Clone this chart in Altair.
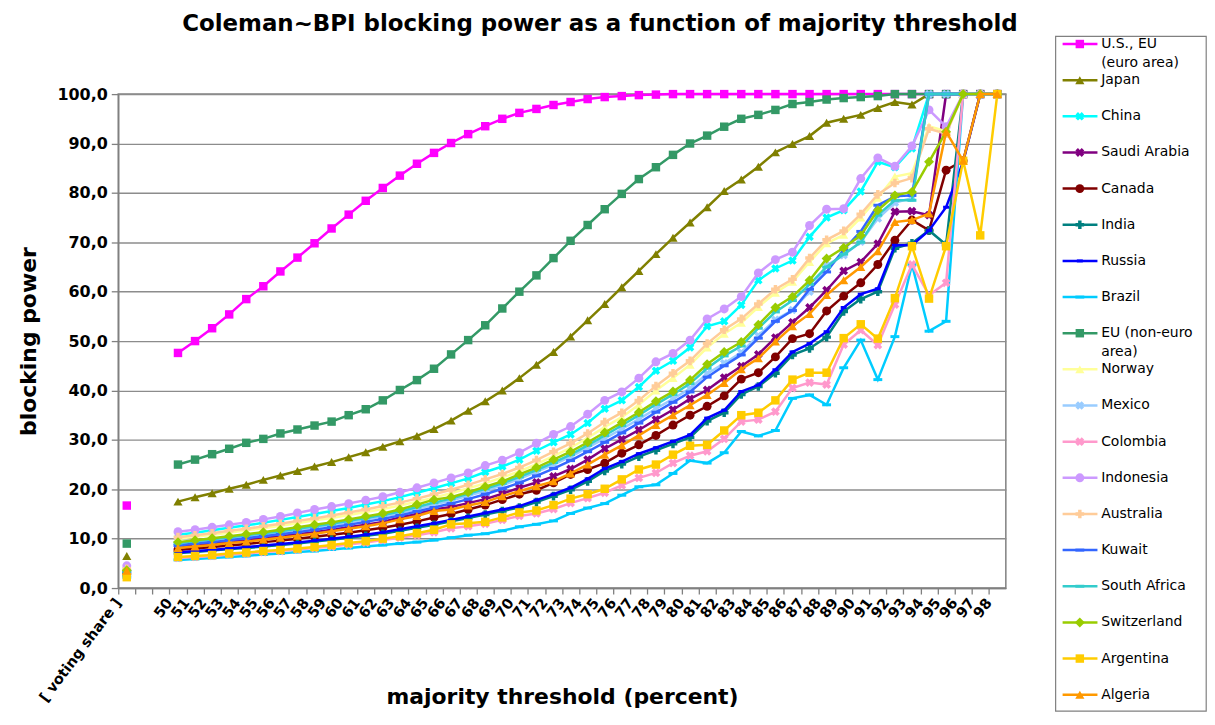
import altair as alt
import pandas as pd

TITLE = "Coleman~BPI blocking power as a function of majority threshold"
THRESHOLDS = list(range(50, 99))
VOTE_POS = 47
TICK_VALUES = [47, 48, 49] + THRESHOLDS

SERIES = ["U.S., EU (euro area)", "Japan", "China", "Saudi Arabia", "Canada", "India",
          "Russia", "Brazil", "EU (non-euro area)", "Norway", "Mexico", "Colombia",
          "Indonesia", "Australia", "Kuwait", "South Africa", "Switzerland", "Argentina", "Algeria"]
LABEL_LINE1 = ["U.S., EU", "Japan", "China", "Saudi Arabia", "Canada", "India", "Russia", "Brazil",
               "EU (non-euro", "Norway", "Mexico", "Colombia", "Indonesia", "Australia", "Kuwait",
               "South Africa", "Switzerland", "Argentina", "Algeria"]
LABEL_LINE2 = ["(euro area)", "", "", "", "", "", "", "", "area)", "", "", "", "", "", "", "", "", "", ""]
COLORS = ["#FF00FF", "#808000", "#00FFFF", "#800080", "#800000", "#008080", "#0000FF", "#00CCFF",
          "#339966", "#FFFF99", "#99CCFF", "#FF99CC", "#CC99FF", "#FFCC99", "#3366FF", "#33CCCC",
          "#99CC00", "#FFCC00", "#FF9900"]
MARKERS = ["square", "triangle", "x", "star", "circle", "plus", "smalldash", "dash",
           "square", "triangle", "x", "star", "circle", "plus", "dash", "dash",
           "diamond", "square", "triangle"]

VOTING_SHARE = [16.7, 6.5, 3.7, 3.2, 2.9, 2.7, 2.7, 2.2, 9.0, 3.4, 3.5, 2.4, 4.5, 3.9, 3.3, 3.4, 3.6, 2.2, 3.5]

US_EU = [47.6, 50.0, 52.6, 55.4, 58.5, 61.1, 64.1, 66.9, 69.8, 72.8,
         75.6, 78.4, 81.0, 83.5, 85.9, 88.1, 90.1, 91.9, 93.5, 95.0,
         96.2, 97.0, 97.8, 98.4, 99.0, 99.4, 99.6, 99.8, 99.9, 100,
         100, 100, 100, 100, 100, 100, 100, 100, 100, 100,
         100, 100, 100, 100, 100, 100, 100, 100, 100]
JAPAN = [17.5, 18.4, 19.2, 20.1, 20.9, 21.9, 22.8, 23.7, 24.6, 25.5,
         26.5, 27.5, 28.6, 29.7, 30.8, 32.2, 33.9, 35.9, 37.8, 40.0,
         42.5, 45.2, 47.8, 50.9, 54.2, 57.5, 60.9, 64.2, 67.6, 70.9,
         74.0, 77.1, 80.4, 82.7, 85.3, 88.2, 89.9, 91.5, 94.2, 95.0,
         95.8, 97.2, 98.4, 97.9, 100, 100, 100, 100, 100]
CHINA = [10.8, 11.2, 11.7, 12.2, 12.7, 13.2, 13.8, 14.4, 15.0, 15.6,
         16.2, 16.9, 17.6, 18.4, 19.3, 20.2, 21.2, 22.2, 23.5, 24.6,
         26.0, 27.8, 29.5, 31.1, 33.4, 36.3, 38.0, 40.7, 44.0, 46.0,
         48.7, 53.0, 54.0, 57.3, 62.3, 64.7, 66.3, 71.1, 75.0, 76.5,
         80.3, 86.3, 85.2, 89.0, 100, 100, 100, 100, 100]
SAUDI = [8.4, 8.7, 9.0, 9.4, 9.7, 10.1, 10.5, 10.9, 11.3, 11.8,
         12.3, 12.8, 13.4, 14.3, 15.0, 15.9, 16.4, 17.2, 18.0, 19.1,
         20.3, 21.4, 22.6, 24.1, 26.0, 28.2, 30.1, 32.0, 34.1, 36.1,
         38.3, 40.1, 42.6, 44.9, 47.3, 50.7, 53.8, 56.8, 60.3, 64.2,
         66.0, 69.7, 76.2, 76.3, 75.5, 100, 100, 100, 100]
CANADA = [7.7, 8.0, 8.3, 8.6, 8.9, 9.3, 9.6, 10.0, 10.4, 10.8,
          11.2, 11.7, 12.2, 12.8, 13.5, 14.3, 15.0, 15.9, 16.8, 17.9,
          19.0, 19.8, 21.3, 23.0, 24.0, 25.3, 27.3, 29.0, 30.9, 33.0,
          35.0, 36.8, 38.9, 42.3, 43.6, 46.8, 50.5, 51.5, 56.1, 59.1,
          61.8, 65.5, 70.4, 74.5, 72.4, 84.6, 86.5, 100, 100]
INDIA = [7.1, 7.3, 7.6, 7.9, 8.1, 8.4, 8.7, 9.0, 9.4, 9.8,
         10.2, 10.6, 11.0, 11.6, 12.2, 12.8, 13.5, 14.2, 14.9, 15.6,
         16.3, 17.4, 18.6, 19.9, 21.6, 23.7, 25.1, 26.6, 27.9, 29.2,
         30.5, 33.8, 35.5, 39.2, 40.8, 43.5, 47.2, 48.5, 50.8, 56.0,
         58.5, 60.0, 68.8, 69.8, 72.4, 69.5, 100, 100, 100]
RUSSIA = [7.2, 7.5, 7.7, 8.0, 8.3, 8.6, 8.9, 9.2, 9.6, 10.0,
          10.4, 10.8, 11.3, 11.9, 12.5, 13.1, 13.8, 14.5, 15.2, 15.9,
          16.6, 17.8, 19.0, 20.3, 22.1, 24.2, 25.6, 27.2, 28.4, 29.7,
          31.0, 34.4, 36.0, 39.8, 41.1, 44.2, 47.8, 49.5, 51.9, 56.8,
          59.5, 60.6, 69.4, 69.4, 72.4, 77.1, 86.3, 100, 100]
BRAZIL = [5.7, 5.9, 6.1, 6.3, 6.5, 6.8, 7.0, 7.3, 7.5, 7.8,
          8.1, 8.4, 8.7, 9.0, 9.3, 9.7, 10.2, 10.7, 11.0, 11.6,
          12.4, 12.9, 13.6, 15.1, 16.2, 17.1, 18.8, 20.5, 20.9, 23.2,
          25.8, 25.3, 27.4, 31.7, 30.8, 31.9, 38.4, 39.1, 37.1, 44.6,
          50.2, 42.2, 50.9, 65.5, 52.0, 54.0, 100, 100, 100]
EU_NON_EURO = [25.0, 26.0, 27.1, 28.2, 29.4, 30.2, 31.3, 32.1, 32.9, 33.7,
               35.0, 36.2, 38.0, 40.1, 42.1, 44.4, 47.3, 50.2, 53.2, 56.6,
               60.0, 63.3, 66.8, 70.3, 73.5, 76.7, 79.8, 82.8, 85.2, 87.7,
               90.0, 91.6, 93.4, 95.0, 95.8, 96.8, 98.0, 98.4, 98.9, 99.2,
               99.4, 99.6, 100, 100, 100, 100, 100, 100, 100]
NORWAY = [10.0, 10.4, 10.8, 11.2, 11.7, 12.1, 12.6, 13.1, 13.7, 14.2,
          14.8, 15.4, 16.0, 16.7, 17.5, 18.3, 19.2, 20.2, 21.2, 22.4,
          23.6, 25.1, 26.7, 28.4, 30.4, 32.6, 34.6, 37.1, 40.0, 42.5,
          45.2, 48.7, 51.5, 53.7, 56.9, 59.8, 62.0, 66.0, 69.8, 71.5,
          75.0, 79.0, 83.3, 84.0, 93.5, 92.5, 100, 100, 100]
MEXICO = [8.9, 9.3, 9.7, 10.1, 10.5, 10.9, 11.3, 11.8, 12.3, 12.8,
          13.3, 13.9, 14.5, 15.2, 16.0, 16.9, 17.7, 18.7, 19.7, 20.8,
          22.1, 23.5, 25.0, 26.6, 28.4, 30.3, 32.2, 34.2, 36.3, 38.3,
          40.4, 43.4, 45.5, 47.7, 51.1, 54.3, 56.3, 60.0, 65.3, 67.4,
          70.1, 74.8, 78.0, 79.0, 100, 100, 100, 100, 100]
COLOMBIA = [6.1, 6.3, 6.5, 6.8, 7.0, 7.3, 7.5, 7.8, 8.1, 8.4,
            8.8, 9.2, 9.7, 10.2, 10.7, 11.3, 12.1, 12.5, 13.0, 13.8,
            14.6, 15.1, 16.0, 17.2, 18.2, 19.3, 20.8, 22.3, 23.3, 25.3,
            26.8, 27.7, 30.2, 33.7, 34.1, 35.7, 40.5, 41.6, 41.2, 49.3,
            52.2, 49.2, 57.4, 65.5, 59.3, 61.8, 100, 100, 100]
INDONESIA = [11.4, 11.8, 12.3, 12.8, 13.3, 13.9, 14.5, 15.2, 15.9, 16.5,
             17.1, 17.8, 18.5, 19.4, 20.3, 21.3, 22.3, 23.3, 24.8, 25.9,
             27.4, 29.3, 31.1, 32.7, 35.2, 38.0, 39.7, 42.5, 45.8, 47.5,
             50.2, 54.5, 56.5, 59.0, 63.8, 66.5, 68.0, 73.4, 76.7, 76.8,
             82.9, 87.1, 85.4, 89.5, 96.8, 93.4, 100, 100, 100]
AUSTRALIA = [10.3, 10.7, 11.1, 11.6, 12.0, 12.5, 13.0, 13.6, 14.1, 14.7,
             15.3, 15.9, 16.6, 17.3, 18.1, 19.0, 19.9, 20.9, 22.0, 23.1,
             24.4, 25.9, 27.6, 29.3, 31.3, 33.6, 35.5, 38.0, 40.9, 43.5,
             46.0, 49.5, 52.3, 54.5, 57.5, 60.5, 62.5, 66.8, 70.5, 72.3,
             75.7, 79.7, 82.0, 83.0, 93.0, 92.0, 100, 100, 100]
KUWAIT = [8.6, 9.0, 9.3, 9.7, 10.1, 10.5, 10.9, 11.3, 11.8, 12.3,
          12.8, 13.4, 14.0, 14.7, 15.5, 16.3, 17.1, 18.0, 19.0, 20.1,
          21.3, 22.7, 24.2, 25.8, 27.6, 29.5, 31.4, 33.4, 35.6, 37.6,
          39.7, 42.7, 45.0, 47.2, 50.6, 54.0, 56.2, 60.5, 64.0, 68.5,
          72.2, 77.5, 79.3, 79.5, 100, 100, 100, 100, 100]
SOUTH_AFRICA = [9.1, 9.5, 9.9, 10.3, 10.7, 11.1, 11.5, 12.0, 12.5, 13.0,
                13.6, 14.2, 14.8, 15.5, 16.4, 17.3, 18.1, 19.1, 20.1, 21.2,
                22.5, 23.9, 25.4, 27.0, 28.9, 30.9, 32.9, 35.0, 37.2, 39.2,
                41.4, 44.5, 47.0, 49.0, 52.6, 55.9, 58.2, 61.5, 65.0, 67.6,
                70.0, 75.5, 78.5, 78.5, 100, 100, 100, 100, 100]
SWITZERLAND = [9.3, 9.7, 10.1, 10.5, 10.9, 11.3, 11.8, 12.3, 12.8, 13.3,
               13.9, 14.5, 15.1, 15.9, 16.9, 17.9, 18.4, 19.4, 20.5, 21.6,
               23.0, 24.4, 26.0, 27.6, 29.5, 31.5, 33.5, 35.6, 37.8, 39.8,
               42.1, 45.3, 47.8, 49.8, 53.3, 56.8, 59.0, 62.3, 66.7, 68.9,
               71.4, 76.5, 79.5, 80.2, 86.3, 92.4, 100, 100, 100]
ARGENTINA = [6.3, 6.5, 6.7, 7.0, 7.2, 7.5, 7.7, 8.0, 8.3, 8.7,
             9.1, 9.5, 10.0, 10.5, 11.1, 11.8, 12.9, 13.1, 13.4, 14.3,
             15.3, 15.7, 16.8, 18.1, 19.0, 20.1, 22.0, 24.0, 25.0, 27.0,
             28.8, 29.0, 31.9, 35.0, 35.5, 38.0, 42.2, 43.6, 43.6, 50.6,
             53.4, 50.5, 58.7, 69.2, 58.6, 69.2, 86.5, 71.4, 100]
ALGERIA = [8.1, 8.4, 8.7, 9.1, 9.4, 9.8, 10.2, 10.6, 11.0, 11.5,
           12.0, 12.5, 13.1, 13.9, 14.6, 15.6, 15.9, 16.7, 17.4, 18.6,
           19.6, 20.6, 21.6, 23.2, 25.0, 27.0, 28.9, 30.9, 33.0, 35.0,
           37.0, 39.1, 41.5, 44.3, 46.5, 49.9, 53.0, 55.5, 59.3, 62.3,
           65.0, 68.2, 74.1, 74.5, 75.8, 92.4, 86.5, 100, 100]

VALUES = [US_EU, JAPAN, CHINA, SAUDI, CANADA, INDIA, RUSSIA, BRAZIL, EU_NON_EURO, NORWAY,
          MEXICO, COLOMBIA, INDONESIA, AUSTRALIA, KUWAIT, SOUTH_AFRICA, SWITZERLAND, ARGENTINA, ALGERIA]

FONT = "DejaVu Sans"
GRID = "#8c8c8c"
STEP_PX = 891.3 / 52

# marker styles (built-in Vega symbols)
STYLE = {
    "square":    dict(shape="square", size=72, filled=True),
    "triangle":  dict(shape="triangle-up", size=85, filled=True),
    "circle":    dict(shape="circle", size=80, filled=True),
    "diamond":   dict(shape="diamond", size=100, filled=True),
    "x":         dict(shape="cross", size=75, filled=True, angle=45),
    "star":      dict(shape="cross", size=80, filled=True, angle=45),
    "plus":      dict(shape="cross", size=75, filled=True),
    "dash":      dict(shape="stroke", size=80, filled=False, strokeWidth=3),
    "smalldash": dict(shape="stroke", size=36, filled=False, strokeWidth=3),
}


def point_mark(data, marker, color):
    return alt.Chart(data).mark_point(color=color, opacity=1, **STYLE[marker])


x_axis = alt.Axis(
    title="majority threshold (percent)",
    values=TICK_VALUES,
    labelExpr="datum.value == 47 ? '[ voting share ]' : (datum.value < 50 ? '' : datum.label)",
    labelAngle=-53, labelAlign="right", labelBaseline="middle",
    labelFont=FONT, labelFontWeight="bold", labelFontSize=14.5, labelColor="black",
    labelPadding=6, labelOverlap=False, labelFlush=False,
    tickOffset=-STEP_PX / 2, tickSize=6, tickColor="#808080", tickWidth=1.3,
    domainColor="#808080", domainWidth=1.5, grid=False,
    titleFont=FONT, titleFontSize=22, titleFontWeight="bold", titleColor="black",
    titleY=99,
)
y_axis = alt.Axis(
    title="blocking power",
    values=[0, 10, 20, 30, 40, 50, 60, 70, 80, 90, 100],
    labelExpr="datum.value + ',0'",
    labelFont=FONT, labelFontWeight="bold", labelFontSize=16, labelColor="black", labelPadding=4,
    tickSize=7, tickColor="#808080", tickWidth=1.3, domainColor="#808080", domainWidth=1.5,
    grid=True, gridColor=GRID, gridWidth=1.4,
    titleFont=FONT, titleFontSize=22, titleFontWeight="bold", titleColor="black",
    titleX=-78,
)

X = alt.X("pos:Q", scale=alt.Scale(domain=[46.5, 98.5], nice=False, zero=False), axis=x_axis)
Y = alt.Y("v:Q", scale=alt.Scale(domain=[0, 100], nice=False), axis=y_axis)

layers = []
for name, color, marker, vs, vals in zip(SERIES, COLORS, MARKERS, VOTING_SHARE, VALUES):
    line_df = pd.DataFrame({"pos": THRESHOLDS, "v": vals})
    pts_df = pd.DataFrame({"pos": [VOTE_POS] + THRESHOLDS, "v": [vs] + vals})
    layers.append(alt.Chart(line_df).mark_line(color=color, strokeWidth=2.5).encode(x=X, y=Y))
    layers.append(point_mark(pts_df, marker, color).encode(x=X, y=Y))

# ---- legend: box, line sample, marker and label per row (layout in pixels from plot corner) ----
one = pd.DataFrame({"k": [0]})
ROW0, ROWSTEP = -50.3, 36.3
layers.append(alt.Chart(one).mark_rect(fill="white", stroke="#808080", strokeWidth=1.2).encode(
    x=alt.value(941.3), x2=alt.value(1092.5), y=alt.value(-58), y2=alt.value(619.5)))
for i, (color, marker, l1, l2) in enumerate(zip(COLORS, MARKERS, LABEL_LINE1, LABEL_LINE2)):
    py = ROW0 + ROWSTEP * i
    layers.append(alt.Chart(one).mark_rule(color=color, strokeWidth=2.5).encode(
        x=alt.value(948.3), x2=alt.value(983.3), y=alt.value(py)))
    layers.append(point_mark(one, marker, color).encode(x=alt.value(965.6), y=alt.value(py)))
    layers.append(alt.Chart(one).mark_text(text=l1, align="left", baseline="middle", font=FONT,
                                           fontSize=14, color="black").encode(
        x=alt.value(987), y=alt.value(py)))
    if l2:
        layers.append(alt.Chart(one).mark_text(text=l2, align="left", baseline="middle", font=FONT,
                                               fontSize=14, color="black").encode(
            x=alt.value(987), y=alt.value(py + 19)))

chart = alt.layer(*layers).properties(
    width=891.3, height=496,
    title=alt.TitleParams(TITLE, font=FONT, fontSize=23, fontWeight="bold", color="black",
                          anchor="middle", dx=38, offset=0),
    autosize=alt.AutoSizeParams(type="none"),
    padding={"left": 110.7, "top": 85, "right": 202, "bottom": 124},
).configure_view(stroke="#808080", strokeWidth=1.5)

chart.save("out.html", embed_options={"renderer": "svg", "actions": False})
